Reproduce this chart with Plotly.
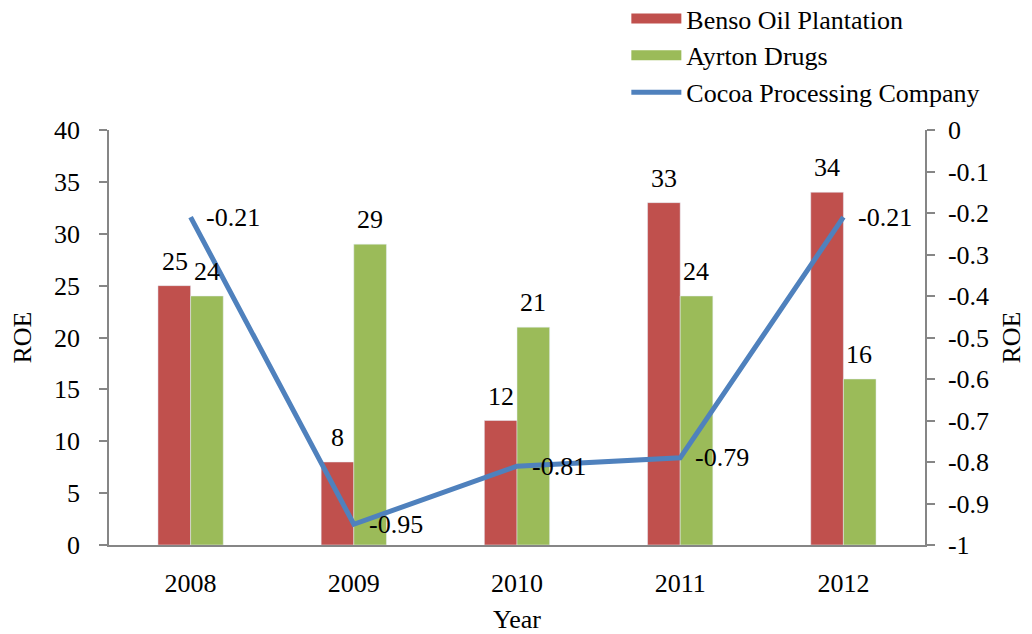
import plotly.graph_objects as go

years = ["2008", "2009", "2010", "2011", "2012"]
benso = [25, 8, 12, 33, 34]
ayrton = [24, 29, 21, 24, 16]
cocoa = [-0.21, -0.95, -0.81, -0.79, -0.21]

left_ticks = [0, 5, 10, 15, 20, 25, 30, 35, 40]
right_tickvals = [0, -0.1, -0.2, -0.3, -0.4, -0.5, -0.6, -0.7, -0.8, -0.9, -1]
right_ticktext = ["0", "-0.1", "-0.2", "-0.3", "-0.4", "-0.5", "-0.6", "-0.7", "-0.8", "-0.9", "-1"]

FONT = "Liberation Serif"
FS = 26
AX = "#868686"
RED, GREEN, BLUE = "#C0504D", "#9BBB59", "#4F81BD"
TF = dict(family=FONT, size=FS, color="black")

fig = go.Figure()
fig.add_trace(go.Bar(x=years, y=benso, name="Benso Oil Plantation", marker_color=RED,
                     showlegend=False))
fig.add_trace(go.Bar(x=years, y=ayrton, name="Ayrton Drugs", marker_color=GREEN,
                     showlegend=False))
# legend-only entries giving wide swatches like the original
fig.add_trace(go.Scatter(x=[None], y=[None], name="Benso Oil Plantation", mode="lines",
                         line=dict(color=RED, width=13)))
fig.add_trace(go.Scatter(x=[None], y=[None], name="Ayrton Drugs", mode="lines",
                         line=dict(color=GREEN, width=13)))
fig.add_trace(go.Scatter(
    x=years, y=cocoa, name="Cocoa Processing Company", yaxis="y2",
    mode="lines", line=dict(color=BLUE, width=5), cliponaxis=False,
))

# annotations on a category axis use the category serial number
annotations = []
for i, v in enumerate(benso):
    annotations.append(dict(x=i, y=v, xref="x", yref="y", text=str(v), showarrow=False,
                            xshift=-16, yshift=8, yanchor="bottom", font=TF))
for i, v in enumerate(ayrton):
    annotations.append(dict(x=i, y=v, xref="x", yref="y", text=str(v), showarrow=False,
                            xshift=16, yshift=8, yanchor="bottom", font=TF))
for i, v in enumerate(cocoa):
    annotations.append(dict(x=i, y=v, xref="x", yref="y2", text=f"{v:g}", showarrow=False,
                            xanchor="left", xshift=13, font=TF))

fig.update_layout(
    width=1024, height=626,
    margin=dict(l=101, r=107, t=122, b=89, autoexpand=False),
    paper_bgcolor="white", plot_bgcolor="white",
    font=TF,
    barmode="group", bargap=0.6, bargroupgap=0,
    showlegend=True,
    annotations=annotations,
    legend=dict(x=0.634, y=1.325, xanchor="left", yanchor="top",
                font=TF, itemwidth=50,
                tracegroupgap=0, bgcolor="rgba(0,0,0,0)"),
    xaxis=dict(
        type="category", range=[-0.5, len(years) - 0.5],
        showline=True, linecolor=AX, linewidth=1.5, ticks="",
        showgrid=False, ticklabelstandoff=14,
        title=dict(text="Year", standoff=16, font=TF),
        tickfont=TF,
    ),
    yaxis=dict(
        range=[0, 40], tickvals=left_ticks, showgrid=False, zeroline=False,
        showline=True, linecolor=AX, linewidth=1.5,
        ticks="outside", ticklen=8, tickcolor=AX, tickwidth=1.5,
        ticklabelstandoff=14,
        title=dict(text="ROE", standoff=16, font=TF), tickfont=TF,
    ),
    yaxis2=dict(
        range=[-1, 0], overlaying="y", side="right",
        tickvals=right_tickvals, ticktext=right_ticktext,
        showgrid=False, zeroline=False,
        showline=True, linecolor=AX, linewidth=1.5,
        ticks="outside", ticklen=8, tickcolor=AX, tickwidth=1.5,
        ticklabelstandoff=8,
        title=dict(text="ROE", standoff=14, font=TF), tickfont=TF,
    ),
)

fig.write_html("out.html")
